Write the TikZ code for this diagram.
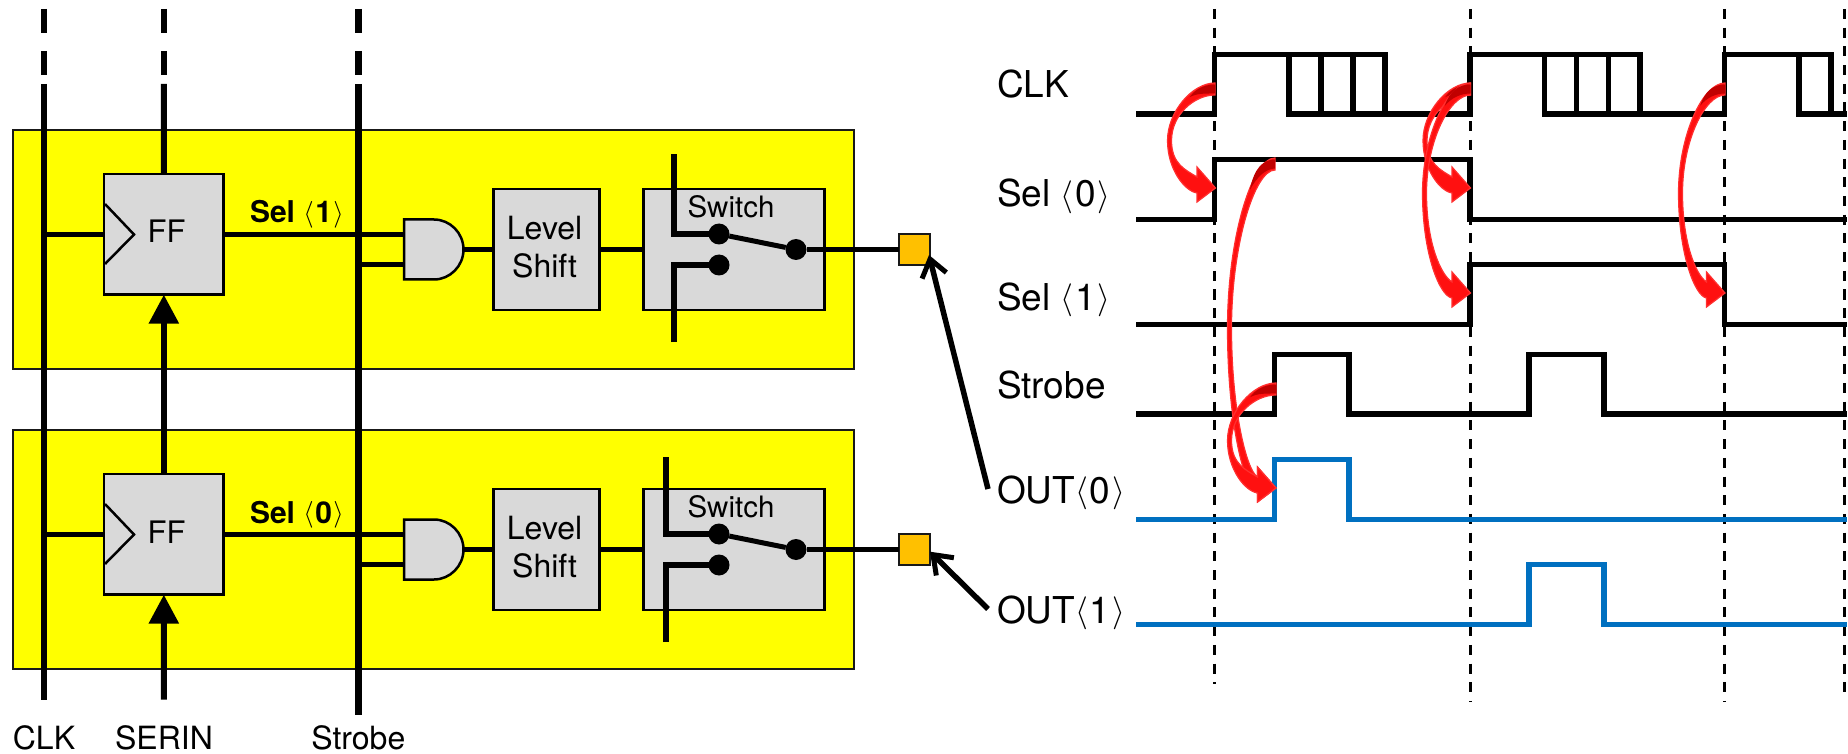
\documentclass[tikz,border=0pt]{standalone}
\usepackage{fontspec}
\setmainfont{TeX Gyre Heros}
\usetikzlibrary{arrows.meta}
\definecolor{blk}{HTML}{D9D9D9}
\definecolor{yel}{HTML}{FFFF00}
\definecolor{pad}{HTML}{FFC000}
\definecolor{sig}{HTML}{0070C0}
\definecolor{rglow}{HTML}{FF3030}
\definecolor{rcore}{HTML}{C00000}
\definecolor{rfill}{HTML}{FF1010}
\newcommand{\brk}[1]{\raisebox{0.04em}{\resizebox*{!}{0.89em}{$#1$}}}
\newcommand{\ang}[1]{\brk{\langle}\kern0.05em#1\kern0.05em\brk{\rangle}}
% red curved arrow: start x, start y, tip x, tip y, leftmost x
\newcommand{\redarr}[5]{%
  \pgfmathsetmacro{\My}{(#2+#4)/2+2}%
  \pgfmathsetmacro{\Hx}{#3-18.5}%
  \pgfmathsetmacro{\Dx}{#1-#5}%
  \pgfmathsetmacro{\Dy}{\My-#2}%
  \pgfmathsetmacro{\Ey}{#4-\My}%
  \pgfmathsetmacro{\Ha}{\Hx-0.45*(\Hx-#5)}%
  \pgfmathsetmacro{\Hb}{\Hx-0.4*(\Hx-#5)}%
  \filldraw[redshape]
    (#1,#2-6) .. controls (#1-0.5*\Dx,#2-6) and (#5-1.5,\My-0.55*\Dy) .. (#5-1.5,\My)
    .. controls (#5-1.5,\My+0.6*\Ey) and (\Ha,#4+3) .. (\Hx,#4+5)
    -- (\Hx,#4+14) -- (#3,#4) -- (\Hx,#4-21) -- (\Hx,#4-11)
    .. controls (\Hb,#4-18) and (#5+2.5,\My+0.5*\Ey) .. (#5+2.5,\My)
    .. controls (#5+2.5,\My-0.5*\Dy) and (#1-0.45*\Dx,#2+6) .. (#1,#2+6) -- cycle;
  \fill[rcore]
    (#1,#2-4.5) .. controls (#1-0.25*\Dx,#2-4.5) and (#1-0.45*\Dx,#2+0.02*\Dy) .. (#1-0.55*\Dx,#2+0.16*\Dy)
    .. controls (#1-0.4*\Dx,#2+0.08*\Dy) and (#1-0.2*\Dx,#2+4.5) .. (#1,#2+4.5) -- cycle;
}
\tikzset{
  box/.style={draw=black,fill=blk,line width=2.5pt,inner sep=0pt,outer sep=0pt,align=center},
  band/.style={draw=black!90,fill=yel,line width=2pt,inner sep=0pt,outer sep=0pt,minimum width=841pt,minimum height=239pt},
  padbox/.style={draw=black!90,fill=pad,line width=2pt,inner sep=0pt,outer sep=0pt,minimum width=31pt,minimum height=31pt},
  wire/.style={draw=black,line width=5.5pt},
  thickwire/.style={draw=black,line width=6pt},
  strobewire/.style={draw=black,line width=7pt},
  sw/.style={draw=black,line width=5pt,line join=miter},
  dot/.style={circle,fill=black,inner sep=0pt,outer sep=0pt,minimum size=21pt},
  lbl/.style={inner sep=0pt,outer sep=0pt,anchor=base,font=\fontsize{32}{36}\selectfont,align=center},
  tlbl/.style={inner sep=0pt,outer sep=0pt,anchor=base west,font=\fontsize{37}{42}\selectfont},
  pointer/.style={draw=black,line width=5.5pt,-{Straight Barb[length=17pt,width=25pt,line width=5pt]}},
  inarrow/.style={-{Triangle[length=29pt,width=29pt]}},
  dashvert/.style={draw=black,line width=3pt,dash pattern=on 10pt off 8.7pt},
  sigblack/.style={draw=black,line width=5.5pt,line join=miter},
  sigblue/.style={draw=sig,line width=5.5pt,line join=miter},
  redshape/.style={fill=rfill,draw=rglow,line width=1.2pt,line join=miter},
  topdash/.style={dash pattern=on 24pt off 18pt}
}
\begin{document}
\begin{tikzpicture}[x=1pt,y=-1pt]
\useasboundingbox (0,0) rectangle (1848,754);
% yellow bands
\node[band] (band1) at (433.5,249.5) {};
\node[band] (band0) at (433.5,549.5) {};
% bus end points
\coordinate (clkT) at (43.7,9);
\coordinate (clkD) at (43.7,75.5);
\coordinate (clkM) at (43.7,84);
\coordinate (clkB) at (43.7,699.5);
\coordinate (serT) at (163.8,9);
\coordinate (serD) at (163.8,75.5);
\coordinate (serM) at (163.8,84);
\coordinate (serB) at (163.8,699.5);
\coordinate (stbT) at (358.3,9);
\coordinate (stbD) at (358.3,75.5);
\coordinate (stbM) at (358.3,84);
\coordinate (stbB) at (358.3,715);
\draw[thickwire,topdash] (clkT) -- (clkD);
\draw[thickwire,topdash] (serT) -- (serD);
\draw[strobewire,topdash] (stbT) -- (stbD);
\draw[thickwire] (clkM) -- (clkB);
\draw[strobewire] (stbM) -- (stbB);
\foreach \r/\dy/\sx/\up/\lo/\pw in {1/0/674/154.4/342/4.6, 0/300/666.3/457/642/5.6} {
  \node[box,minimum width=119.7pt,minimum height=120.7pt] (ff\r) at (163.85,234.35+\dy) {};
  \node[lbl,font=\fontsize{31}{36}\selectfont] (fft\r) at (166.5,243+\dy) {FF};
  \draw[draw=black,line width=2.5pt,line join=miter] (105,204+\dy) -- (134,234.5+\dy) -- (105,264+\dy);
  \coordinate (clk\r) at (43.7,234.5+\dy);
  \coordinate (ck\r) at (104,234.5+\dy);
  \draw[wire] (clk\r) -- (ck\r);
  \coordinate (sb\r) at (358.3,234.5+\dy);
  \coordinate (sc\r) at (358.3,264.7+\dy);
  % AND gate
  \coordinate (anda\r) at (404,234.5+\dy);
  \coordinate (andb\r) at (404,264.7+\dy);
  \coordinate (ando\r) at (463.5,249.5+\dy);
  \draw[wire] (ff\r.east |- sb\r) -- (anda\r);
  \draw[wire] (sc\r) -- (andb\r);
  \filldraw[fill=blk,draw=black,line width=2.5pt,line join=miter]
    (404,219.5+\dy) -- (434,219.5+\dy) .. controls (450,219.5+\dy) and (463.5,233+\dy) .. (463.5,249.5+\dy)
    .. controls (463.5,266+\dy) and (450,279.5+\dy) .. (434,279.5+\dy) -- (404,279.5+\dy) -- cycle;
  \node[inner sep=0pt,outer sep=0pt,anchor=base west,font=\fontsize{30}{36}\selectfont\bfseries] (sel\r) at (250,223+\dy) {Sel \ang{\r}};
  \node[box,anchor=center,minimum width=105.6pt,minimum height=121pt] (ls\r) at (546.5,249.5+\dy) {};
  \node[lbl] (lst\r) at (544.6,239.3+\dy) {Level};
  \node[lbl] (lss\r) at (544.6,277.3+\dy) {Shift};
  \node[box,minimum width=181pt,minimum height=121pt] (sw\r) at (734.2,249.5+\dy) {};
  \node[lbl,font=\fontsize{29.5}{36}\selectfont] (swt\r) at (731,217.7+\dy) {Switch};
  \draw[wire] (ando\r) -- (ls\r.west);
  \draw[wire] (ls\r.east) -- (sw\r.west);
  \node[dot] (da\r) at (719,234+\dy) {};
  \node[dot] (db\r) at (719,265+\dy) {};
  \node[dot] (dc\r) at (796,249.5+\dy) {};
  \node[padbox] (pad\r) at (914.3,249.5+\dy) {};
  \coordinate (swu\r) at (\sx,\up);
  \coordinate (swl\r) at (\sx,\lo);
  \draw[sw,line width=6pt] (swu\r) |- (da\r);
  \draw[sw,line width=6pt] (swl\r) |- (db\r);
  \draw[sw] (da\r) -- (dc\r);
  \draw[wire,line width=\pw pt] (dc\r) -- (pad\r);
}
% SERIN line with arrowheads
\draw[thickwire] (serM) -- (ff1.north);
\draw[thickwire,inarrow] (ff0.north) -- (ff1.south);
\draw[thickwire,inarrow] (serB) -- (ff0.south);
% bottom labels
\node[lbl] (lclk) at (44,749) {CLK};
\node[lbl] (lser) at (164,749) {SERIN};
\node[lbl] (lstb) at (358.3,749) {Strobe};
% timing labels
\node[tlbl] (tclk) at (997,98) {CLK};
\node[tlbl] (tsel0) at (997,207) {Sel \ang{0}};
\node[tlbl] (tsel1) at (997,310) {Sel \ang{1}};
\node[tlbl] (tstb) at (997,398) {Strobe};
\node[tlbl] (tout0) at (997,503) {OUT\ang{0}};
\node[tlbl] (tout1) at (997,623) {OUT\ang{1}};
% pointers
\coordinate (p1s) at (988,489);
\coordinate (p1e) at (929,255);
\coordinate (p0s) at (988,609);
\coordinate (p0e) at (930,551.7);
\draw[pointer] (p1s) -- (p1e);
\draw[pointer] (p0s) -- (p0e);
% dashed clock edges
\foreach \x/\e in {1214/684,1470/701,1724/701,1844/699} {
  \draw[dashvert] (\x,9) -- (\x,\e);
}
% waveforms
\draw[sigblack] (1136,114) -- (1214.3,114) -- (1214.3,54.3) -- (1385,54.3) -- (1385,114) -- (1289,114) -- (1289,54.3)
  (1321,54.3) -- (1321,114) (1353,54.3) -- (1353,114);
\draw[sigblack] (1385,114) -- (1470,114) -- (1470,54.3) -- (1640,54.3) -- (1640,114) -- (1544.5,114) -- (1544.5,54.3)
  (1576.5,54.3) -- (1576.5,114) (1608.5,54.3) -- (1608.5,114);
\draw[sigblack] (1640,114) -- (1724.3,114) -- (1724.3,54.3) -- (1831,54.3) -- (1831,114) -- (1799,114) -- (1799,54.3)
  (1831,114) -- (1846.5,114);
\draw[sigblack] (1136,219.3) -- (1214.3,219.3) -- (1214.3,159.3) -- (1470,159.3) -- (1470,219.3) -- (1846.5,219.3);
\draw[sigblack] (1136,324.3) -- (1470,324.3) -- (1470,264.3) -- (1724.3,264.3) -- (1724.3,324.3) -- (1846.5,324.3);
\draw[sigblack] (1136,414) -- (1274.3,414) -- (1274.3,354.3) -- (1349,354.3) -- (1349,414) -- (1529,414) -- (1529,354.3) -- (1604,354.3) -- (1604,414) -- (1846.5,414);
\draw[sigblue] (1136,519.3) -- (1274.3,519.3) -- (1274.3,459.3) -- (1349,459.3) -- (1349,519.3) -- (1846.5,519.3);
\draw[sigblue] (1136,624.3) -- (1529,624.3) -- (1529,564.5) -- (1604,564.5) -- (1604,624.3) -- (1846.5,624.3);
% red arrows
\redarr{1215}{89}{1215.5}{188}{1169}
\redarr{1470.5}{89}{1470.5}{188}{1424.5}
\redarr{1470.5}{89}{1470.5}{293}{1424}
\redarr{1725}{89}{1725}{293}{1680}
\redarr{1275}{164}{1276}{488}{1229}
\redarr{1276}{389}{1276}{488}{1229}
\end{tikzpicture}
\end{document}
